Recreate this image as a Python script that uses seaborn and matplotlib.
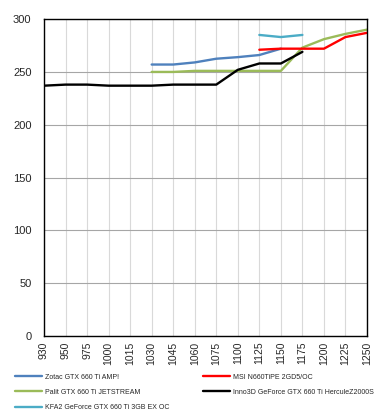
import matplotlib
matplotlib.use("Agg")
import matplotlib.pyplot as plt
import seaborn as sns
import numpy as np
import pandas as pd

# Frequências (MHz) no eixo x e leituras por placa
rotulos = ["930", "950", "975", "1000", "1015", "1030", "1045", "1060", "1075",
           "1100", "1125", "1150", "1175", "1200", "1225", "1250"]
nan = np.nan
zotac = [nan, nan, nan, nan, nan, 257, 257, 259, 262.5, 264, 266, 272, nan, nan, nan, nan]
msi = [nan, nan, nan, nan, nan, nan, nan, nan, nan, nan, 271, 272, 272, 272, 283, 287]
palit = [nan, nan, nan, nan, nan, 250, 250, 251, 251, 251, 251, 251, 273, 281, 286, 290]
inno3d = [237, 238, 238, 237, 237, 237, 238, 238, 238, 252, 258, 258, 269, nan, nan, nan]
kfa2 = [nan, nan, nan, nan, nan, nan, nan, nan, nan, nan, 285, 283, 285, nan, nan, nan]

series = {
    "Zotac GTX 660 Ti AMP!": (zotac, "#4F81BD"),
    "Palit GTX 660 Ti JETSTREAM": (palit, "#9BBB59"),
    "KFA2 GeForce GTX 660 Ti 3GB EX OC": (kfa2, "#4BACC6"),
    "MSI N660TiPE 2GD5/OC": (msi, "#FF0000"),
    "Inno3D GeForce GTX 660 Ti HerculeZ2000S": (inno3d, "#000000"),
}

sns.set_style("white")
plt.rcParams['font.family'] = ['Liberation Sans', 'DejaVu Sans']

fig = plt.figure(figsize=(3.78, 4.15), dpi=100)
ax = fig.add_axes([0.1164, 0.190, 0.8545, 0.764])

n = len(rotulos)
for nome, (valores, cor) in series.items():
    df = pd.DataFrame({"x": np.arange(n), "y": valores})
    sns.lineplot(data=df, x="x", y="y", color=cor, linewidth=1.7, label=nome, ax=ax)

ax.set_xlim(0, n - 1)
ax.set_ylim(0, 300)
ax.set_xticks(np.arange(n))
ax.set_xticklabels(rotulos, rotation=90, fontsize=7.5)
ax.set_yticks(range(0, 301, 50))
ax.tick_params(axis="y", labelsize=8, direction="in", length=4, pad=9)
ax.tick_params(axis="x", length=0, pad=4)
ax.set_xlabel("")
ax.set_ylabel("")
ax.grid(axis="x", color="#d9d9d9", linewidth=0.8)
ax.grid(axis="y", color="#a6a6a6", linewidth=0.8)
for s in ax.spines.values():
    s.set_color("black")
    s.set_linewidth(1)

handles, labels = ax.get_legend_handles_labels()
ax.get_legend().remove()
fig.legend(handles, labels, loc="upper left", bbox_to_anchor=(0.04, 0.100),
           bbox_transform=fig.transFigure, ncol=2, frameon=False,
           fontsize=5, handlelength=3.9, handletextpad=0.45, columnspacing=4.8,
           labelspacing=1.2, borderpad=0, borderaxespad=0)

fig.savefig("out.png", dpi=100)
